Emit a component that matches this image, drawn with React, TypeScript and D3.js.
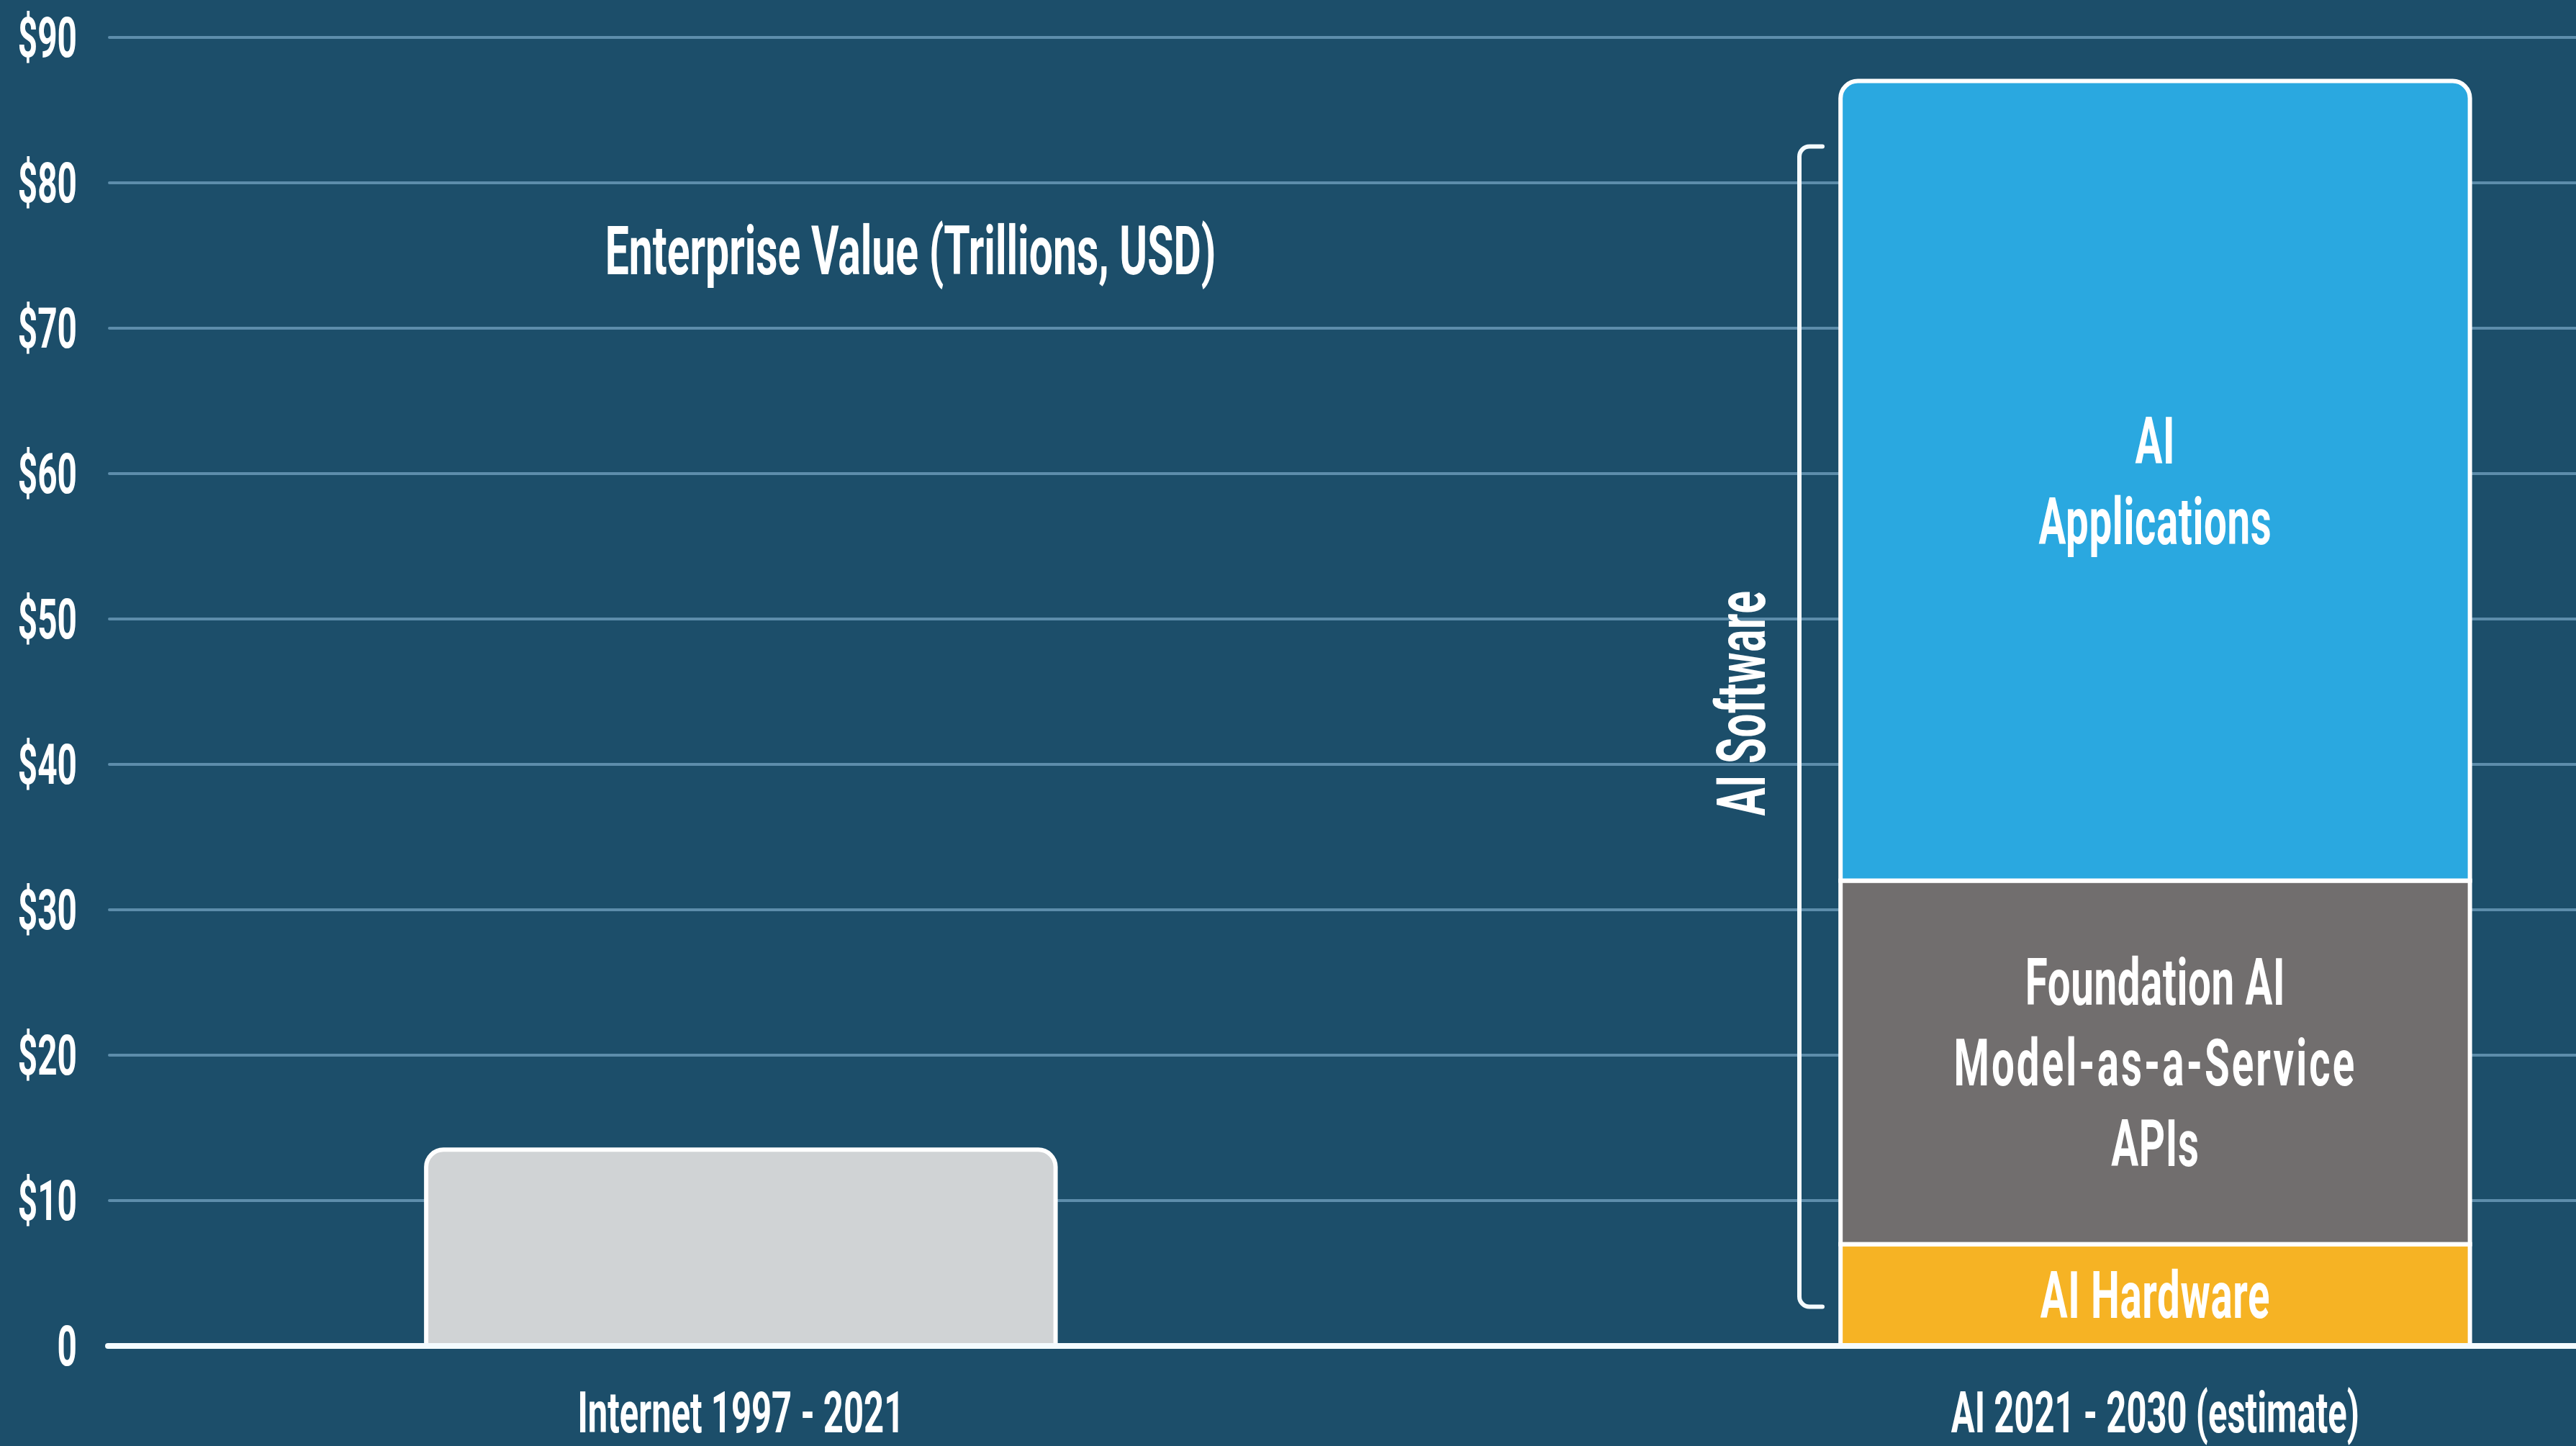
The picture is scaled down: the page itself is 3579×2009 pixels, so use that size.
import React, { useEffect } from "react";
import * as d3 from "d3";

// ---------- data ----------
const categories = ["Internet 1997 - 2021", "AI 2021 - 2030 (estimate)"];
const internetValues = [13.5];
const aiSegmentNames = ["AI Hardware", "Foundation AI Model-as-a-Service APIs", "AI Applications"];
const aiSegmentValues = [7, 25, 55];
const aiSegmentLabelLines = [["AI Hardware"], ["Foundation AI", "Model-as-a-Service", "APIs"], ["AI", "Applications"]];
const yTickValues = [0, 10, 20, 30, 40, 50, 60, 70, 80, 90];
const yTickLabels = ["0", "$10", "$20", "$30", "$40", "$50", "$60", "$70", "$80", "$90"];
const titleText = "Enterprise Value (Trillions, USD)";
const bracketLabel = "AI Software";
const bracketRange = [2.7, 82.5];

// ---------- style ----------
const W = 3579;
const H = 2009;
const BG = "#1c4e6a";
const GRID = "#5d8dab";
const SEG_COLORS = ["#f6b324", "#716e6e", "#2aa8e0"];
const INTERNET_COLOR = "#d0d3d5";
const SX = 0.62;
const FONT = "Roboto, 'Noto Sans', sans-serif";

const y = d3.scaleLinear().domain([0, 90]).range([1870, 52]);
const x = d3
  .scaleBand<string>()
  .domain(categories)
  .range([150, W])
  .paddingInner(0.555)
  .paddingOuter(0.15)
  .align(0.75);

function roundedTop(x0: number, y0: number, w: number, h: number, r: number) {
  return `M${x0},${y0 + h}V${y0 + r}A${r},${r} 0 0 1 ${x0 + r},${y0}H${x0 + w - r}A${r},${r} 0 0 1 ${x0 + w},${y0 + r}V${y0 + h}Z`;
}

function CText(props: {
  x: number;
  y: number;
  size: number;
  anchor?: string;
  rotate?: number;
  spacing?: number;
  children: React.ReactNode;
}) {
  const { x: tx, y: ty, size, anchor = "middle", rotate, spacing = 0, children } = props;
  const tr = `translate(${tx},${ty})${rotate ? ` rotate(${rotate})` : ""} scale(${SX},1)`;
  return (
    <text
      transform={tr}
      textAnchor={anchor as any}
      fontSize={size}
      fontWeight={700}
      fill="#ffffff"
      fontFamily={FONT}
      letterSpacing={spacing}
    >
      {children}
    </text>
  );
}

export default function App() {
  useEffect(() => {
    document.body.style.margin = "0";
    document.body.style.overflow = "hidden";
  }, []);

  const bw = x.bandwidth();
  const xi = x(categories[0])!;
  const xa = x(categories[1])!;
  const cum = Array.from(d3.cumsum(aiSegmentValues));
  const starts = cum.map((c, i) => c - aiSegmentValues[i]);
  const gridLeft = 152;
  const lineGap = 112;

  const bx = 2500;
  const bTop = y(bracketRange[1]);
  const bBot = y(bracketRange[0]);
  const hook = 32;
  const br = 14;
  const bracketPath = `M${bx + hook},${bTop}H${bx + br}A${br},${br} 0 0 0 ${bx},${bTop + br}V${bBot - br}A${br},${br} 0 0 0 ${bx + br},${bBot}H${bx + hook}`;

  return (
    <svg width={W} height={H} style={{ display: "block" }}>
      <rect x={0} y={0} width={W} height={H} fill={BG} />

      {/* gridlines */}
      {yTickValues
        .filter((v) => v !== 0)
        .map((v) => (
          <line
            key={v}
            x1={gridLeft}
            x2={W}
            y1={y(v)}
            y2={y(v)}
            stroke={GRID}
            strokeWidth={4}
            strokeLinecap="round"
          />
        ))}

      {/* y tick labels */}
      {yTickValues.map((v, i) => (
        <CText key={v} x={107} y={y(v) + 27} size={77} anchor="end">
          {yTickLabels[i]}
        </CText>
      ))}

      {/* title */}
      <CText x={1265} y={381} size={95}>
        {titleText}
      </CText>

      {/* internet bar */}
      {internetValues.map((v, i) => (
        <path
          key={i}
          d={roundedTop(xi, y(v), bw, y(0) - y(v), 24)}
          fill={INTERNET_COLOR}
          stroke="#ffffff"
          strokeWidth={6}
        />
      ))}

      {/* AI stacked bar */}
      {aiSegmentValues.map((v, i) => {
        const top = y(cum[i]);
        const bot = y(starts[i]);
        const isTop = i === aiSegmentValues.length - 1;
        return isTop ? (
          <path
            key={aiSegmentNames[i]}
            d={roundedTop(xa, top, bw, bot - top, 24)}
            fill={SEG_COLORS[i]}
            stroke="#ffffff"
            strokeWidth={6}
          />
        ) : (
          <rect
            key={aiSegmentNames[i]}
            x={xa}
            y={top}
            width={bw}
            height={bot - top}
            fill={SEG_COLORS[i]}
            stroke="#ffffff"
            strokeWidth={6}
          />
        );
      })}

      {/* segment labels */}
      {aiSegmentLabelLines.map((lines, i) => {
        const cy = (y(cum[i]) + y(starts[i])) / 2;
        const n = lines.length;
        return lines.map((ln, j) => (
          <CText
            key={`${i}-${j}`}
            x={xa + bw / 2}
            y={cy + (j - (n - 1) / 2) * lineGap + 32}
            size={91}
            spacing={ln.includes("-") ? 5 : 1}
          >
            {ln}
          </CText>
        ));
      })}

      {/* zero axis line */}
      <line x1={150} x2={W} y1={y(0)} y2={y(0)} stroke="#f4fbff" strokeWidth={8} strokeLinecap="round" />

      {/* bracket */}
      <path d={bracketPath} fill="none" stroke="#f4fbff" strokeWidth={6} strokeLinecap="round" />
      <CText x={2452} y={977} size={94} rotate={-90} spacing={1}>
        {bracketLabel}
      </CText>

      {/* x labels */}
      {categories.map((c) => (
        <CText key={c} x={x(c)! + bw / 2} y={1990} size={79}>
          {c}
        </CText>
      ))}
    </svg>
  );
}
